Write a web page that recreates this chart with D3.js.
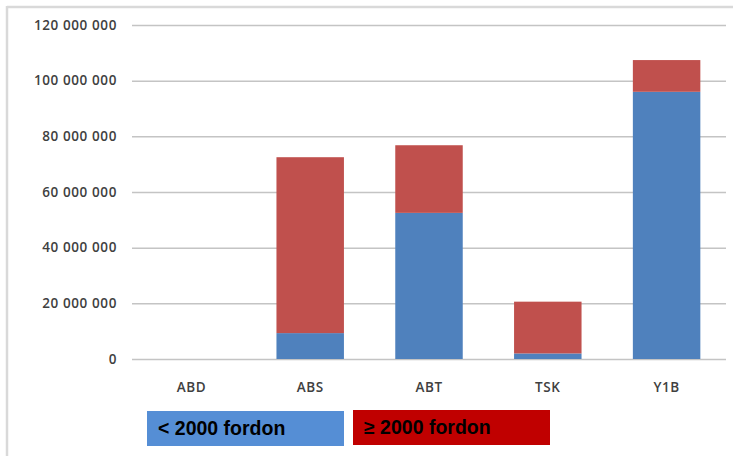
<!DOCTYPE html>
<html>
<head>
<meta charset="utf-8">
<script src="https://cdn.jsdelivr.net/npm/d3@7"></script>
<style>
  html, body { margin: 0; padding: 0; background: #fff; }
  svg { display: block; }
</style>
</head>
<body>
<svg id="chart" width="733" height="456"></svg>
<script>
const categories = ["ABD", "ABS", "ABT", "TSK", "Y1B"];
const seriesNames = ["< 2000 fordon", "≥ 2000 fordon"];
const under2000 = [0, 9300000, 52500000, 2000000, 96000000];
const over2000 = [0, 63200000, 24300000, 18600000, 11400000];
const yTicks = [0, 20000000, 40000000, 60000000, 80000000, 100000000, 120000000];
const barColors = ["#4F81BD", "#C0504D"];
const legendColors = ["#558ED5", "#C00000"];

const svg = d3.select("#chart");
const W = 733, H = 456;

// frame lines (top + left)
svg.append("line").attr("x1", 7).attr("x2", W).attr("y1", 7).attr("y2", 7)
  .attr("stroke", "#d9d9d9").attr("stroke-width", 2.5);
svg.append("line").attr("x1", 7).attr("x2", 7).attr("y1", 6).attr("y2", H)
  .attr("stroke", "#d9d9d9").attr("stroke-width", 2.5);

const x = d3.scaleBand().domain(categories).range([132, 726])
  .paddingInner(0.432).paddingOuter(0.216);
const y = d3.scaleLinear().domain([0, 120000000]).range([359, 25]);

const fmt = v => d3.format(",")(v).replace(/,/g, " ");

// gridlines
const yAxis = d3.axisLeft(y).tickValues(yTicks).tickSize(-(726 - 132)).tickFormat(fmt).tickPadding(15);
const gy = svg.append("g").attr("transform", "translate(132,0)").call(yAxis);
gy.select(".domain").remove();
gy.selectAll(".tick line").attr("stroke", "#c4c4c4").attr("stroke-width", 1.5);
gy.selectAll(".tick text")
  .attr("fill", "#404040")
  .style("font-family", "'Open Sans', sans-serif")
  .style("font-size", "13.5px")
  .style("font-weight", "600")
  .style("letter-spacing", "0.6px");

// stacked bars
const rows = categories.map((c, i) => ({ cat: c, a: under2000[i], b: over2000[i] }));
const stack = d3.stack().keys(["a", "b"]);
const layers = stack(rows);
svg.append("g").selectAll("g").data(layers).join("g")
  .attr("fill", (d, i) => barColors[i])
  .selectAll("rect").data(d => d).join("rect")
  .attr("x", d => x(d.data.cat))
  .attr("width", x.bandwidth())
  .attr("y", d => y(d[1]))
  .attr("height", d => y(d[0]) - y(d[1]));

// x axis labels
const xAxis = d3.axisBottom(x).tickSize(0).tickPadding(0);
const gx = svg.append("g").attr("transform", "translate(0,382)").call(xAxis);
gx.select(".domain").remove();
gx.selectAll(".tick text")
  .attr("fill", "#404040")
  .attr("dy", "0.71em")
  .style("font-family", "'Open Sans', sans-serif")
  .style("font-size", "13.5px")
  .style("font-weight", "600")
  .style("letter-spacing", "0.6px");

// legend boxes
const legendX = [147, 353];
const legendY = [411, 410];
const lg = svg.append("g").selectAll("g").data(seriesNames).join("g");
lg.append("rect")
  .attr("x", (d, i) => legendX[i]).attr("y", (d, i) => legendY[i])
  .attr("width", 197).attr("height", 35)
  .attr("fill", (d, i) => legendColors[i]);
lg.append("text")
  .attr("x", (d, i) => legendX[i] + 11)
  .attr("y", (d, i) => legendY[i] + 24)
  .attr("fill", "#000")
  .style("font-family", "'Liberation Sans', Arial, sans-serif")
  .style("font-weight", "bold")
  .style("font-size", "19.5px")
  .text(d => d);
</script>
</body>
</html>
